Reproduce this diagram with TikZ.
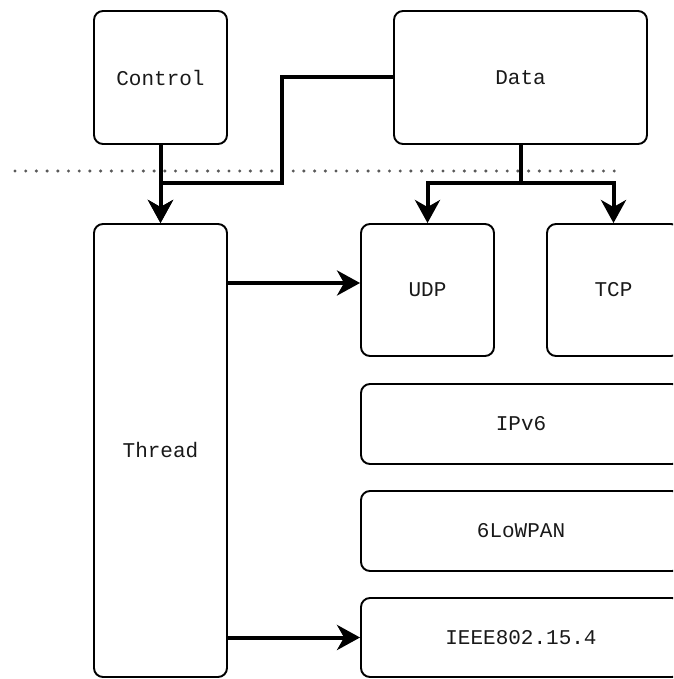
\documentclass[tikz,border=0pt]{standalone}
\usepackage{fontspec}
\setmonofont{Liberation Mono}
\usetikzlibrary{arrows.meta}

\def \boxLine {1.9pt}
\def \linkLine {4pt}

\tikzset{
   layer/.style={draw, line width=\boxLine, rounded corners=9pt, inner sep=0pt,
      text=black!90, font=\ttfamily\fontsize{21}{24}\selectfont},
   link/.style={line width=\linkLine, -{Stealth[length=23pt, width=25pt, inset=7pt]}},
}

\begin{document}
\begin{tikzpicture}[x=1pt, y=-1pt]

      \clip (0,0) rectangle (673,679);

      % top: control and data
      \node[layer, minimum width=133pt, minimum height=133pt] (control) at (160.5, 77.5) {Control};
      \node[layer, minimum width=253pt, minimum height=133pt] (data) at (520.5, 77.5) {Data};

      \draw[line width=3.4pt, gray!70!black, line cap=round, dash pattern=on 0pt off 10.7pt] (15, 171) -- (615, 171);

      % stack
      \node[layer, minimum width=133pt, minimum height=453pt] (thread) at (160.5, 450.5) {Thread};
      \node[layer, minimum width=133pt, minimum height=132pt] (udp) at (427.5, 290) {UDP};
      \node[layer, minimum width=133pt, minimum height=132pt] (tcp) at (613.5, 290) {TCP};
      \node[layer, minimum width=320pt, minimum height=80pt] (ipv6) at (521, 424) {IPv6};
      \node[layer, minimum width=320pt, minimum height=80pt] (lowpan) at (521, 531) {6LoWPAN};
      \node[layer, minimum width=320pt, minimum height=79pt] (ieee) at (521, 637.5) {IEEE802.15.4};

      \coordinate (bend) at (282, 183);
      \coordinate (split) at (520.5, 183);
      \coordinate (udpin) at (0, 283);

      \draw[link] (control) -- (thread);
      \draw[link] (data.west) -| (bend) -| (thread.north);
      \draw[link] (data.south) -- (split) -| (udp.north);
      \draw[link] (data.south) -- (split) -| (tcp.north);
      \draw[link] (thread.east |- udpin) -- (udp.west |- udpin);
      \draw[link] (thread.east |- ieee.west) -- (ieee.west);

   \end{tikzpicture}
\end{document}
